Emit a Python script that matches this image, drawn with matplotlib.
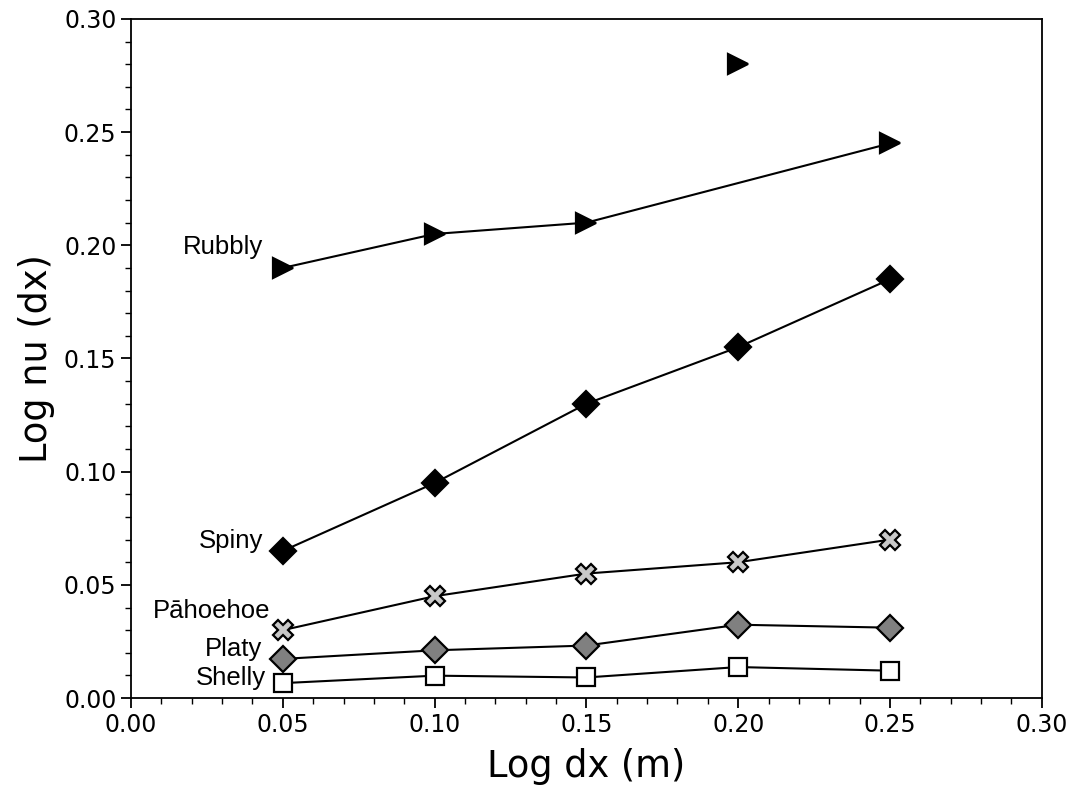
import matplotlib
matplotlib.use("Agg")
import matplotlib.pyplot as plt
import numpy as np
from matplotlib.ticker import MultipleLocator

x = [0.05, 0.10, 0.15, 0.20, 0.25]
rubbly_x = [0.05, 0.10, 0.15, 0.25]
rubbly_y = [0.190, 0.205, 0.210, 0.245]
rubbly_outlier_x = [0.20]
rubbly_outlier_y = [0.280]
spiny_y = [0.065, 0.095, 0.130, 0.155, 0.185]
pahoehoe_y = [0.030, 0.045, 0.055, 0.060, 0.070]
platy_y = [0.0173, 0.0211, 0.0232, 0.0324, 0.0311]
shelly_y = [0.0066, 0.0099, 0.0091, 0.0137, 0.0121]

labels = ["Rubbly", "Spiny", "P\u0101hoehoe", "Platy", "Shelly"]
ticks = [0.00, 0.05, 0.10, 0.15, 0.20, 0.25, 0.30]

fig = plt.figure(figsize=(10.74, 7.87), dpi=100)
ax = fig.add_axes([0.122, 0.113, 0.848, 0.863])

lw = 1.5
mew = 1.6
ax.plot(rubbly_x, rubbly_y, '-', color='black', lw=lw, marker='>', ms=15,
        mfc='black', mec='black', mew=mew)
ax.plot(rubbly_outlier_x, rubbly_outlier_y, linestyle='none', marker='>', ms=15,
        mfc='black', mec='black', mew=mew)
ax.plot(x, spiny_y, '-', color='black', lw=lw, marker='D', ms=13,
        mfc='black', mec='black', mew=mew)
ax.plot(x, pahoehoe_y, '-', color='black', lw=lw, marker='X', ms=14,
        mfc='#c8c8c8', mec='black', mew=mew)
ax.plot(x, platy_y, '-', color='black', lw=lw, marker='D', ms=13,
        mfc='#808080', mec='black', mew=mew)
ax.plot(x, shelly_y, '-', color='black', lw=lw, marker='s', ms=13,
        mfc='white', mec='black', mew=mew)

firsts = [rubbly_y[0], spiny_y[0], pahoehoe_y[0], platy_y[0], shelly_y[0]]
offsets = [(-14, 15), (-14, 7), (-9, 14), (-15, 7), (-12, 4)]
for lab, y0, off in zip(labels, firsts, offsets):
    ax.annotate(lab, xy=(x[0], y0), xytext=off, textcoords='offset points',
                ha='right', va='center', fontsize=18.5, family='Liberation Sans')

ax.set_xlim(0, 0.30)
ax.set_ylim(0, 0.30)
ax.set_xticks(ticks)
ax.set_yticks(ticks)
ax.set_xticklabels([f"{t:.2f}" for t in ticks])
ax.set_yticklabels([f"{t:.2f}" for t in ticks])
ax.xaxis.set_minor_locator(MultipleLocator(0.01))
ax.yaxis.set_minor_locator(MultipleLocator(0.01))
ax.tick_params(which='major', direction='out', length=7, width=1.3, labelsize=17,
               top=False, right=False)
ax.tick_params(which='minor', direction='out', length=4, width=1.0,
               top=False, right=False)
for s in ax.spines.values():
    s.set_linewidth(1.3)

ax.set_xlabel("Log dx (m)", fontsize=26.5, labelpad=8)
ax.set_ylabel("Log nu (dx)", fontsize=26.5, labelpad=6)

fig.savefig("out.png", dpi=100)
